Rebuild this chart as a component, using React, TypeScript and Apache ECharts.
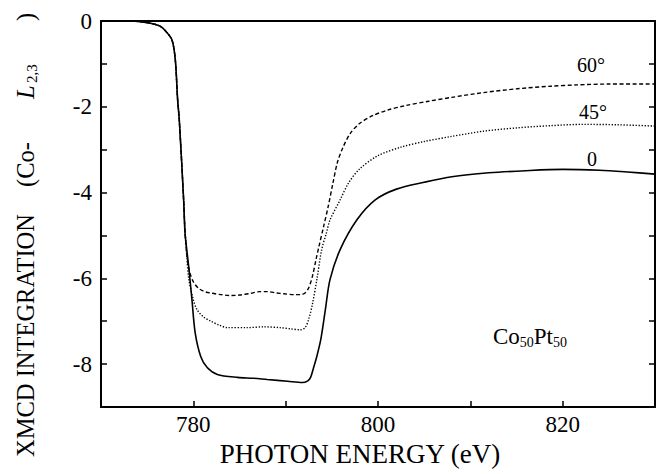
import React, { useEffect, useRef } from 'react';
import * as echarts from 'echarts';

// Curve "0" (solid)
const energy0 = [770, 772, 774, 775.3, 776.4, 777.1, 777.7, 778.05, 778.3, 778.48, 778.95, 779.1, 779.5, 779.85, 780.2, 780.8, 781.5, 782.6, 784.8, 786.5, 788, 790.2, 791.8, 792.4, 792.7, 793.0, 793.35, 793.8, 794.3, 794.8, 795.9, 797.7, 799.7, 802, 805, 808, 812, 816, 820, 824, 827, 830];
const integ0 = [0, 0, -0.01, -0.05, -0.12, -0.26, -0.45, -0.91, -1.84, -2.31, -4.17, -4.94, -5.73, -6.5, -7.27, -7.82, -8.08, -8.24, -8.31, -8.33, -8.36, -8.4, -8.43, -8.39, -8.31, -8.1, -7.84, -7.43, -6.73, -6.03, -5.33, -4.64, -4.17, -3.92, -3.76, -3.63, -3.54, -3.49, -3.46, -3.48, -3.52, -3.57];

// Curve "45°" (dotted)
const energy45 = [770, 772, 774, 775.3, 776.4, 777.1, 777.7, 778.05, 778.3, 778.48, 778.95, 779.1, 779.3, 779.5, 780.0, 780.4, 781.1, 781.9, 782.8, 783.7, 785.8, 787.6, 789.4, 790.6, 791.6, 792.1, 792.5, 792.9, 793.4, 793.9, 794.4, 794.8, 795.9, 796.8, 798, 800, 802.5, 805, 808, 811.4, 815.1, 818.7, 822.3, 826, 830];
const integ45 = [0, 0, -0.01, -0.05, -0.12, -0.26, -0.45, -0.91, -1.84, -2.31, -4.17, -4.9, -5.5, -6.0, -6.5, -6.73, -6.9, -7.0, -7.09, -7.15, -7.15, -7.13, -7.15, -7.18, -7.2, -7.15, -6.95, -6.6, -6.0, -5.33, -4.95, -4.64, -4.17, -3.78, -3.45, -3.14, -2.94, -2.81, -2.69, -2.57, -2.49, -2.44, -2.41, -2.42, -2.45];

// Curve "60°" (dashed)
const energy60 = [770, 772, 774, 775.3, 776.4, 777.1, 777.7, 778.05, 778.3, 778.48, 778.95, 779.1, 779.3, 779.6, 780.0, 780.5, 781.1, 781.8, 783, 784, 785, 786.2, 787.2, 788, 789, 789.8, 791, 791.6, 792.1, 792.5, 792.9, 793.3, 793.6, 794.1, 794.6, 795.1, 795.6, 796.2, 797, 798, 799.5, 801, 803, 805.5, 808, 811.4, 815.1, 818.7, 821.6, 825, 830];
const integ60 = [0, 0, -0.01, -0.05, -0.12, -0.26, -0.45, -0.91, -1.84, -2.31, -4.17, -4.9, -5.45, -5.85, -6.08, -6.22, -6.3, -6.34, -6.38, -6.4, -6.39, -6.35, -6.31, -6.31, -6.34, -6.36, -6.38, -6.38, -6.34, -6.22, -5.95, -5.55, -5.26, -4.8, -4.33, -3.8, -3.3, -2.95, -2.62, -2.39, -2.2, -2.08, -1.97, -1.87, -1.78, -1.67, -1.58, -1.52, -1.49, -1.47, -1.47];

const xTickLabels = [780, 800, 820];
const yTickLabels = [0, -2, -4, -6, -8];
const curveLabels = ['60°', '45°', '0'];

const FONT = '"Liberation Serif", "Times New Roman", serif';

function pairs(xs: number[], ys: number[]) {
  return xs.map((x, i) => [x, ys[i]]);
}

function vtext(text: string, x: number, y: number, size: number, italic = false) {
  return {
    type: 'text', x, y, rotation: Math.PI / 2,
    style: {
      text, fontSize: size, fontFamily: FONT, fontStyle: italic ? 'italic' : 'normal',
      fill: '#000', align: 'left', verticalAlign: 'middle',
    },
  };
}

export default function App() {
  const ref = useRef<HTMLDivElement>(null);
  useEffect(() => {
    const chart = echarts.init(ref.current!, null, { renderer: 'svg' });
    const axisCommon = {
      axisLine: { show: true, onZero: false, lineStyle: { color: '#000', width: 2 } },
      splitLine: { show: false },
    };
    chart.setOption({
      animation: false,
      backgroundColor: '#fff',
      grid: { left: 101, top: 21, right: 11, bottom: 67, show: false },
      xAxis: [
        {
          type: 'value', min: 770, max: 830, interval: 10, position: 'bottom',
          ...axisCommon,
          axisTick: { show: true, inside: true, length: 6, lineStyle: { color: '#000', width: 1.5 } },
          axisLabel: {
            show: true, margin: 6, color: '#000', fontSize: 23, fontFamily: FONT,
            formatter: (v: number) => (xTickLabels.includes(v) ? String(v) : ''),
          },
          name: 'PHOTON ENERGY (eV)', nameLocation: 'middle', nameGap: 28,
          nameTextStyle: { color: '#000', fontSize: 27, fontFamily: FONT, padding: [0, 36, 0, 0] },
        },
        {
          type: 'value', min: 770, max: 830, interval: 10, position: 'top',
          ...axisCommon,
          axisTick: { show: false }, axisLabel: { show: false },
        },
      ],
      yAxis: [
        {
          type: 'value', min: -9, max: 0, interval: 1, position: 'left',
          ...axisCommon,
          axisTick: { show: true, inside: true, length: 6, lineStyle: { color: '#000', width: 1.5 } },
          axisLabel: {
            show: true, margin: 9, color: '#000', fontSize: 23, fontFamily: FONT,
            formatter: (v: number) => (yTickLabels.includes(v) ? String(v) : ''),
          },
        },
        {
          type: 'value', min: -9, max: 0, interval: 1, position: 'right',
          ...axisCommon,
          axisTick: { show: true, inside: true, length: 6, lineStyle: { color: '#000', width: 1.5 } },
          axisLabel: { show: false },
        },
      ],
      series: [
        {
          type: 'line', name: '0', data: pairs(energy0, integ0), showSymbol: false, smooth: 0.3,
          lineStyle: { color: '#000', width: 1.6, type: 'solid' }, z: 3,
        },
        {
          type: 'line', name: '45°', data: pairs(energy45, integ45), showSymbol: false, smooth: 0.3,
          lineStyle: { color: '#000', width: 1.4, type: [1.3, 1.7] }, z: 4,
        },
        {
          type: 'line', name: '60°', data: pairs(energy60, integ60), showSymbol: false, smooth: 0.3,
          lineStyle: { color: '#000', width: 1.4, type: [4, 2.5] }, z: 5,
        },
      ],
      graphic: [
        vtext('XMCD INTEGRATION', 25, 457, 24.5),
        vtext('(Co-', 25, 187, 24.5),
        vtext('L', 25, 99, 24.5, true),
        vtext('2,3', 32, 83, 15),
        vtext(')', 25, 21, 24.5),
        { type: 'text', x: 591, y: 65, style: { text: curveLabels[0], fontSize: 20, fontFamily: FONT, fill: '#000', align: 'center', verticalAlign: 'middle' } },
        { type: 'text', x: 593, y: 112, style: { text: curveLabels[1], fontSize: 20, fontFamily: FONT, fill: '#000', align: 'center', verticalAlign: 'middle' } },
        { type: 'text', x: 592, y: 159, style: { text: curveLabels[2], fontSize: 20, fontFamily: FONT, fill: '#000', align: 'center', verticalAlign: 'middle' } },
        {
          type: 'text', x: 493, y: 336,
          style: {
            text: 'Co{sub|50}Pt{sub|50}',
            fontSize: 23, fontFamily: FONT, fill: '#000', align: 'left', verticalAlign: 'middle',
            rich: {
              sub: { fontSize: 14, fontFamily: FONT, fill: '#000', verticalAlign: 'bottom', padding: [12, 0, 0, 0] },
            },
          },
        },
      ],
    });
    return () => chart.dispose();
  }, []);
  return (
    <div
      ref={ref}
      style={{ position: 'fixed', left: 0, top: 0, width: 666, height: 474, background: '#fff' }}
    />
  );
}
